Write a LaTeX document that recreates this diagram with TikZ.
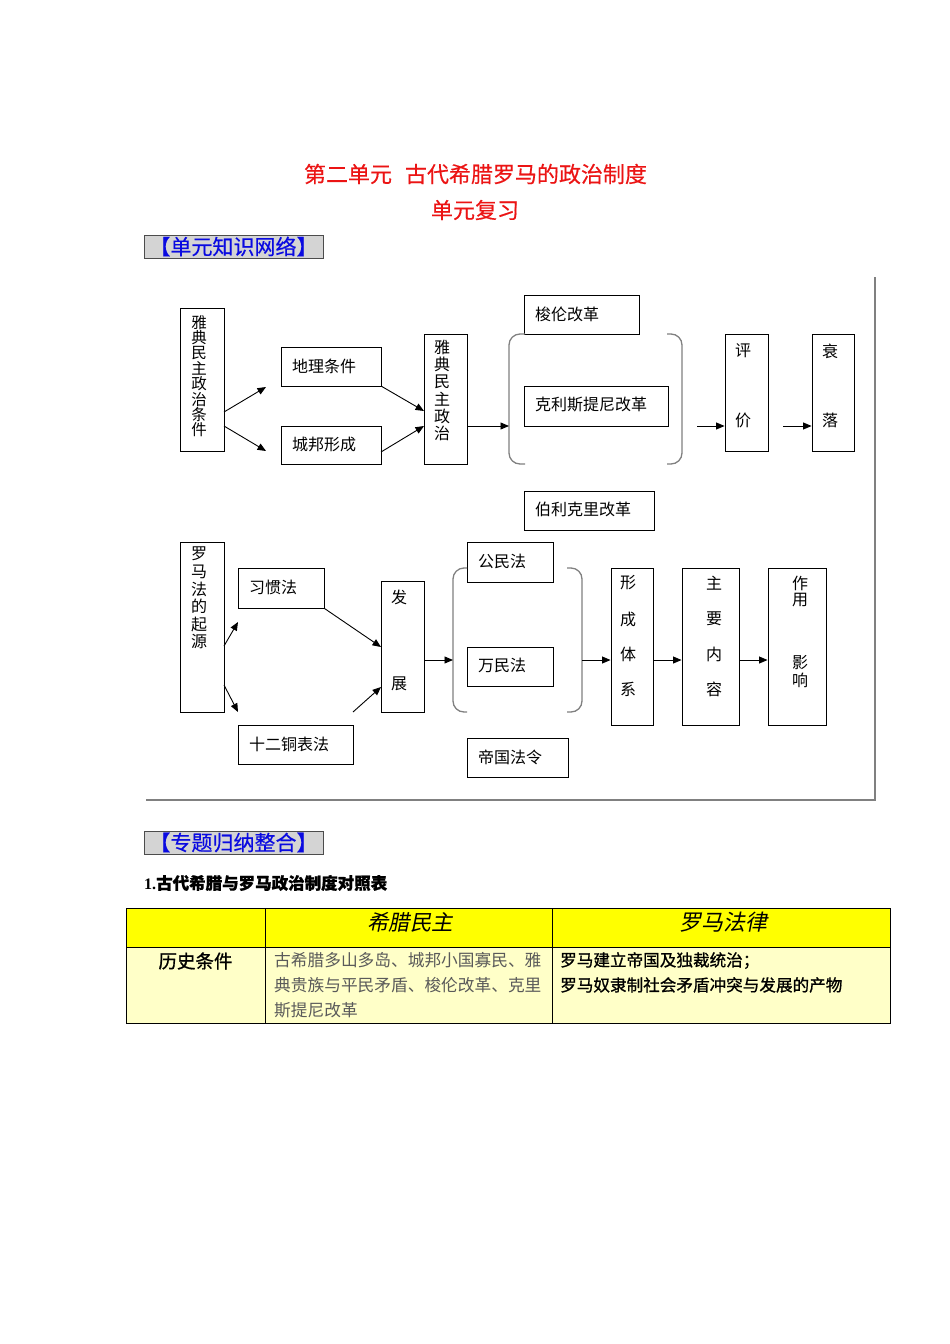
\documentclass[tikz,border=0pt]{standalone}
\usepackage{fontspec}
\usetikzlibrary{arrows.meta}
\newfontfamily\cjk[AutoFakeBold=2.5,AutoFakeSlant=0.2]{Noto Sans CJK SC}
\newfontfamily\cjkb[FakeBold=0.9]{Noto Sans CJK SC}
\newfontfamily\cjkt[FakeBold=0.4]{Noto Sans CJK SC}
\setmainfont{Liberation Serif}
\definecolor{titlered}{RGB}{235,20,20}
\definecolor{hdrblue}{RGB}{10,10,225}
\definecolor{hdrgray}{RGB}{212,212,212}
\definecolor{brgray}{RGB}{128,128,128}
\definecolor{tyellow}{RGB}{255,255,0}
\definecolor{lyellow}{RGB}{255,255,200}
\definecolor{txtgray}{RGB}{90,90,90}
\tikzset{
  box/.style={draw=black, line width=0.9pt, inner sep=0pt},
  lbl/.style={inner sep=0pt, font=\cjk\fontsize{16}{17}\selectfont},
  vlbl/.style={inner sep=0pt, align=center, anchor=north},
  arr/.style={line width=0.9pt, -{Triangle[length=8.5pt,width=7pt]}},
  brk/.style={draw=brgray, line width=1.3pt, rounded corners=11pt},
  frame/.style={draw=brgray, line width=2pt},
  hdrbox/.style={draw=black!70, fill=hdrgray, line width=1pt},
  hdrtxt/.style={inner sep=0pt, text=hdrblue, font=\cjkt\fontsize{21}{21}\selectfont},
  cell/.style={draw=black, line width=1pt}
}
\begin{document}
\begin{tikzpicture}[x=1pt,y=-1pt]
\useasboundingbox (0,0) rectangle (950,1344);
% titles
\node[inner sep=0pt, text=titlered, font=\cjkt\fontsize{22}{22}\selectfont] (t1) at (475.5,174) {第二单元\hspace{13pt}古代希腊罗马的政治制度};
\node[inner sep=0pt, text=titlered, font=\cjkt\fontsize{22}{22}\selectfont] (t2) at (475,210) {单元复习};
% section header 1
\path[hdrbox] (144,235) rectangle (323,258);
\node[hdrtxt] (h1) at (233.5,246.5) {【单元知识网络】};
% frame
\coordinate (fa) at (875,277);
\coordinate (fb) at (875,800);
\coordinate (fc) at (146,800);
\draw[frame] (fa) -- (fb) -- (fc);

% ===== Greek part =====
\node[box, minimum width=44pt, minimum height=143pt] (cond) at (202,379.5) {};
\node[vlbl, font=\cjk\fontsize{15.5}{15.4}\selectfont] (condt) at (199,315) {雅\\典\\民\\主\\政\\治\\条\\件};
\node[box, minimum width=100pt, minimum height=39pt] (geo) at (331,366.5) {};
\node[lbl, anchor=west] (geot) at (292,366.5) {地理条件};
\node[box, minimum width=100pt, minimum height=38pt] (city) at (331,445) {};
\node[lbl, anchor=west] (cityt) at (292,444) {城邦形成};
\node[box, minimum width=43pt, minimum height=130pt] (demo) at (445.5,399) {};
\node[vlbl, font=\cjk\fontsize{16}{17.2}\selectfont] (demot) at (442,340) {雅\\典\\民\\主\\政\\治};
\node[box, minimum width=115pt, minimum height=39pt] (solon) at (581.5,314.5) {};
\node[lbl, anchor=west] (solont) at (535,314) {梭伦改革};
\node[box, minimum width=144pt, minimum height=40pt] (cleis) at (596,406) {};
\node[lbl, anchor=west] (cleist) at (535,405) {克利斯提尼改革};
\node[box, minimum width=130pt, minimum height=39pt] (peri) at (589,510.5) {};
\node[lbl, anchor=west] (perit) at (535,509.5) {伯利克里改革};
\node[box, minimum width=43pt, minimum height=117pt] (eval) at (746.5,392.5) {};
\node[lbl] (evalt1) at (743,351) {评};
\node[lbl] (evalt2) at (743,420) {价};
\node[box, minimum width=42pt, minimum height=117pt] (decl) at (833,392.5) {};
\node[lbl] (declt1) at (830,351) {衰};
\node[lbl] (declt2) at (830,420) {落};
% brackets
\coordinate (b1a) at (525,334);
\coordinate (b1b) at (509,334);
\coordinate (b1c) at (509,464);
\coordinate (b1d) at (525,464);
\draw[brk] (b1a) -- (b1b) -- (b1c) -- (b1d);
\coordinate (b2a) at (667,334);
\coordinate (b2b) at (682,334);
\coordinate (b2c) at (682,464);
\coordinate (b2d) at (667,464);
\draw[brk] (b2a) -- (b2b) -- (b2c) -- (b2d);
% arrows
\coordinate (c1s) at (224,412);
\coordinate (c1e) at (266,387);
\coordinate (c2s) at (224,426);
\coordinate (c2e) at (266,451);
\draw[arr] (c1s) -- (c1e);
\draw[arr] (c2s) -- (c2e);
\coordinate (g1s) at (381,386);
\coordinate (g1e) at (424,411);
\coordinate (g2s) at (381,452);
\coordinate (g2e) at (424,426);
\draw[arr] (g1s) -- (g1e);
\draw[arr] (g2s) -- (g2e);
\coordinate (d1e) at (509,426);
\draw[arr] (demo.east |- d1e) -- (d1e);
\coordinate (e1s) at (697,426);
\draw[arr] (e1s) -- (eval.west |- e1s);
\coordinate (e2s) at (783,426);
\draw[arr] (e2s) -- (decl.west |- e2s);

% ===== Roman part =====
\node[box, minimum width=44pt, minimum height=170pt] (orig) at (202,627) {};
\node[vlbl, font=\cjk\fontsize{16}{17.6}\selectfont] (origt) at (199,547) {罗\\马\\法\\的\\起\\源};
\node[box, minimum width=86pt, minimum height=40pt] (cust) at (281,588) {};
\node[lbl, anchor=west] (custt) at (249,587) {习惯法};
\node[box, minimum width=115pt, minimum height=39pt] (twelve) at (295.5,744.5) {};
\node[lbl, anchor=west] (twelvet) at (249,744) {十二铜表法};
\node[box, minimum width=43pt, minimum height=131pt] (dev) at (402.5,646.5) {};
\node[lbl] (devt1) at (399,597) {发};
\node[lbl] (devt2) at (399,684) {展};
\node[box, minimum width=86pt, minimum height=40pt] (civil) at (510,562) {};
\node[lbl, anchor=west] (civilt) at (478,561) {公民法};
\node[box, minimum width=86pt, minimum height=39pt] (gent) at (510,666.5) {};
\node[lbl, anchor=west] (gentt) at (478,665.5) {万民法};
\node[box, minimum width=101pt, minimum height=39pt] (imp) at (517.5,757.5) {};
\node[lbl, anchor=west] (impt) at (478,757) {帝国法令};
\node[box, minimum width=42pt, minimum height=157pt] (sys) at (632,646.5) {};
\node[lbl] (syst1) at (628,583) {形};
\node[lbl] (syst2) at (628,619) {成};
\node[lbl] (syst3) at (628,654) {体};
\node[lbl] (syst4) at (628,689) {系};
\node[box, minimum width=57pt, minimum height=157pt] (main) at (710.5,646.5) {};
\node[lbl] (maint1) at (714,583) {主};
\node[lbl] (maint2) at (714,619) {要};
\node[lbl] (maint3) at (714,654) {内};
\node[lbl] (maint4) at (714,689) {容};
\node[box, minimum width=58pt, minimum height=157pt] (infl) at (797,646.5) {};
\node[lbl] (inflt1) at (800,583) {作};
\node[lbl] (inflt2) at (800,600) {用};
\node[lbl] (inflt3) at (800,663) {影};
\node[lbl] (inflt4) at (800,680) {响};
% brackets
\coordinate (b3a) at (467,568);
\coordinate (b3b) at (453,568);
\coordinate (b3c) at (453,712);
\coordinate (b3d) at (467,712);
\draw[brk] (b3a) -- (b3b) -- (b3c) -- (b3d);
\coordinate (b4a) at (567,568);
\coordinate (b4b) at (582,568);
\coordinate (b4c) at (582,712);
\coordinate (b4d) at (567,712);
\draw[brk] (b4a) -- (b4b) -- (b4c) -- (b4d);
% arrows
\coordinate (o1s) at (224,646);
\coordinate (o1e) at (238,622);
\coordinate (o2s) at (224,685);
\coordinate (o2e) at (238,712);
\draw[arr] (o1s) -- (o1e);
\draw[arr] (o2s) -- (o2e);
\coordinate (u1e) at (381,647);
\draw[arr] (cust.south east) -- (u1e);
\coordinate (w1s) at (353,712);
\coordinate (w1e) at (381,687);
\draw[arr] (w1s) -- (w1e);
\coordinate (v1e) at (453,660);
\draw[arr] (dev.east |- v1e) -- (v1e);
\coordinate (v2s) at (582,660);
\draw[arr] (v2s) -- (sys.west |- v2s);
\coordinate (v3) at (0,660);
\draw[arr] (sys.east |- v3) -- (main.west |- v3);
\draw[arr] (main.east |- v3) -- (infl.west |- v3);

% ===== section 2 =====
\path[hdrbox] (144,831) rectangle (323,854);
\node[hdrtxt] (h2) at (233.5,842.5) {【专题归纳整合】};
\node[inner sep=0pt, anchor=west, font=\fontsize{16}{16}\selectfont\bfseries] (cap) at (144,883) {1.{\cjkb\fontsize{16.5}{16.5}\selectfont 古代希腊与罗马政治制度对照表}};
% table
\path[fill=tyellow] (126,908) rectangle (890,947);
\path[fill=lyellow] (126,947) rectangle (890,1023);
\coordinate (ta) at (126,908);
\coordinate (tb) at (890,1023);
\draw[cell] (ta) rectangle (tb);
\coordinate (tl1) at (126,947);
\coordinate (tl2) at (890,947);
\draw[cell] (tl1) -- (tl2);
\coordinate (tc1) at (265,908);
\coordinate (tc2) at (265,1023);
\draw[cell] (tc1) -- (tc2);
\coordinate (td1) at (552,908);
\coordinate (td2) at (552,1023);
\draw[cell] (td1) -- (td2);
\node[inner sep=0pt, font=\cjk\fontsize{21.5}{21.5}\selectfont\itshape] (hg) at (410,922) {希腊民主};
\node[inner sep=0pt, font=\cjk\fontsize{22}{22}\selectfont\itshape] (hr) at (723,922) {罗马法律};
\node[inner sep=0pt, font=\cjkb\fontsize{18.5}{18.5}\selectfont] (hc) at (195.5,961) {历史条件};
\node[inner sep=0pt, anchor=north west, align=left, text=txtgray, font=\cjk\fontsize{16.7}{25}\selectfont] (gc) at (274,952) {古希腊多山多岛、城邦小国寡民、雅\\典贵族与平民矛盾、梭伦改革、克里\\斯提尼改革};
\node[inner sep=0pt, anchor=north west, align=left, font=\cjkb\fontsize{16.6}{25}\selectfont] (rc) at (560,952) {罗马建立帝国及独裁统治；\\罗马奴隶制社会矛盾冲突与发展的产物};
\end{tikzpicture}
\end{document}
